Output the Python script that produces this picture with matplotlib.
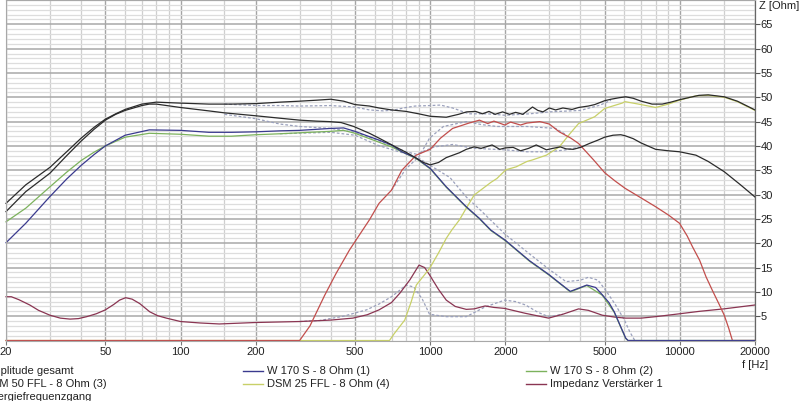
import matplotlib
matplotlib.use("Agg")
import matplotlib.pyplot as plt
from matplotlib.lines import Line2D
from matplotlib.ticker import NullFormatter, FixedLocator

plt.rcParams['font.family'] = ['Liberation Sans', 'DejaVu Sans']

# ---------------- data ----------------
ges_f = [20, 24, 30, 35, 40, 45, 50, 55, 60, 70, 80, 100, 130, 160, 200, 250, 300, 350, 400, 450,
         500, 571, 624, 700, 800, 900, 1000, 1160, 1300, 1400, 1520, 1620, 1720, 1820, 1950, 2080,
         2200, 2350, 2570, 2700, 2830, 3000, 3180, 3400, 3700, 3930, 4300, 4560, 5000, 5300, 5700,
         6070, 6500, 7000, 7740, 8500, 9200, 9970, 11000, 11930, 13000, 15060, 17000, 20000]
ges_v = [28.2, 32.0, 35.6, 38.8, 41.6, 43.8, 45.5, 46.6, 47.5, 48.6, 49.0, 48.8, 48.6, 48.6, 48.7,
         49.0, 49.2, 49.4, 49.6, 49.2, 48.5, 48.2, 47.8, 47.4, 47.1, 46.6, 46.1, 45.9, 46.5, 47.0,
         47.1, 46.6, 47.1, 46.5, 47.0, 46.5, 46.9, 46.5, 48.0, 47.3, 47.0, 47.8, 47.4, 47.8, 47.5,
         47.9, 48.2, 48.5, 49.3, 49.6, 49.9, 50.1, 49.8, 49.2, 48.6, 48.6, 49.0, 49.5, 50.0, 50.4,
         50.5, 50.1, 49.2, 47.4]

low_f = [20, 24, 30, 35, 40, 45, 50, 55, 60, 70, 75, 80, 100, 130, 150, 200, 250, 300, 350, 395,
         440, 494, 571, 624, 727, 800, 879, 940, 1000, 1080, 1160, 1310, 1395, 1500, 1600, 1770,
         1900, 2000, 2150, 2300, 2480, 2660, 2920, 3100, 3320, 3500, 3740, 4000, 4340, 4700, 5000,
         5400, 5800, 6030, 6500, 7000, 8000, 9000, 9970, 11600, 13000, 15060, 17500, 20000]
low_v = [26.5, 30.6, 34.4, 38.0, 41.0, 43.4, 45.3, 46.5, 47.3, 48.3, 48.6, 48.6, 47.9, 47.2, 46.8,
         46.2, 45.7, 45.3, 45.1, 45.0, 44.8, 44.0, 42.6, 41.6, 39.8, 38.7, 37.5, 36.6, 36.1, 36.6,
         37.6, 38.6, 39.3, 39.8, 39.5, 40.2, 39.3, 39.6, 39.7, 39.0, 39.5, 40.2, 39.2, 39.5, 39.8,
         39.4, 39.3, 39.7, 40.5, 41.2, 41.8, 42.2, 42.3, 42.1, 41.5, 40.6, 39.3, 39.0, 38.8, 38.1,
         36.8, 34.7, 32.0, 29.5]

w1_f = [20, 24, 30, 35, 40, 45, 50, 60, 75, 100, 130, 160, 200, 250, 300, 400, 450, 500, 571, 624,
        700, 770, 879, 1000, 1160, 1395, 1575, 1750, 2000, 2200, 2500, 3000, 3300, 3640, 4000, 4240,
        4600, 4890, 5200, 5460, 5800, 6070, 6200, 20000]
w1_v = [20.1, 24.1, 29.6, 33.2, 36.0, 38.2, 40.0, 42.2, 43.3, 43.2, 42.8, 42.8, 42.9, 43.1, 43.2,
        43.6, 43.7, 43.0, 41.9, 41.2, 40.2, 38.8, 37.5, 35.4, 31.6, 27.5, 25.1, 22.7, 20.6, 18.8,
        16.4, 13.5, 11.8, 10.1, 10.9, 11.4, 10.9, 9.4, 7.8, 5.9, 2.8, 0.5, 0.0, 0.0]

w2_f = [20, 24, 30, 35, 40, 45, 50, 60, 75, 100, 130, 160, 200, 250, 300, 400, 450, 500, 571, 700,
        879, 1000, 1160, 1395, 1575, 1750, 2000, 2500, 3000, 3640, 4240, 4890, 5460, 6070, 6200, 20000]
w2_v = [24.4, 27.2, 31.6, 34.6, 37.0, 38.7, 40.0, 41.8, 42.6, 42.4, 42.0, 42.0, 42.3, 42.5, 42.7,
        43.0, 43.2, 42.6, 41.5, 39.8, 37.4, 35.3, 31.5, 27.4, 25.0, 22.6, 20.5, 16.3, 13.4, 10.0,
        11.3, 9.3, 5.8, 0.4, 0.0, 0.0]

mid_f = [20, 300, 330, 378, 420, 475, 530, 571, 624, 700, 770, 879, 1000, 1100, 1230, 1430, 1575,
         1700, 1800, 1990, 2100, 2300, 2440, 2750, 3000, 3289, 3660, 3930, 4500, 5000, 5500, 6030,
         7000, 8000, 9000, 9970, 10700, 11230, 12000, 12730, 13500, 14350, 15060, 15700, 16240, 20000]
mid_v = [0.0, 0.0, 3.0, 9.3, 13.8, 18.6, 22.3, 24.8, 28.2, 30.9, 35.0, 38.1, 39.3, 41.6, 43.6, 44.7,
         45.3, 44.6, 45.1, 44.3, 44.9, 44.3, 44.7, 45.0, 44.5, 42.9, 41.6, 40.5, 37.2, 34.5, 32.8,
         31.3, 29.3, 27.5, 25.8, 24.1, 21.5, 19.3, 16.5, 13.1, 10.3, 7.5, 5.2, 2.5, 0.0, 0.0]

tw_f = [20, 687, 720, 791, 840, 880, 994, 1080, 1160, 1220, 1310, 1395, 1500, 1630, 1750, 1850, 2010,
        2210, 2440, 2560, 2920, 3289, 3640, 3930, 4560, 5000, 5870, 6030, 7000, 8000, 9000, 9970,
        11000, 11600, 13000, 15060, 17000, 20000]
tw_v = [0.0, 0.0, 1.5, 4.2, 8.0, 11.4, 14.8, 18.0, 21.0, 22.7, 24.8, 27.2, 29.9, 31.3, 32.5, 33.3,
        35.1, 35.7, 36.8, 37.1, 38.1, 39.8, 42.6, 44.6, 46.0, 47.7, 48.8, 49.1, 48.5, 47.9, 48.6,
        49.4, 50.0, 50.3, 50.4, 50.0, 49.1, 47.3]

imp_f = [20, 21, 22.5, 24.9, 27, 30, 33, 36.1, 39, 42.1, 46, 50, 54, 57, 60.3, 64, 68.6, 75.3, 81,
         87.8, 100, 120, 143, 200, 300, 400, 490, 560, 624, 700, 758, 830, 902, 950, 994, 1080, 1160,
         1260, 1395, 1500, 1660, 1800, 1987, 2400, 2980, 3400, 3930, 4300, 4890, 5500, 6070, 7000,
         8000, 10000, 12000, 15000, 20000]
imp_v = [9.0, 9.0, 8.4, 7.3, 6.2, 5.2, 4.6, 4.4, 4.5, 4.9, 5.5, 6.3, 7.4, 8.3, 8.8, 8.5, 7.6, 5.9,
         5.1, 4.6, 3.9, 3.6, 3.4, 3.7, 3.9, 4.2, 4.6, 5.3, 6.3, 7.8, 9.8, 12.5, 15.5, 15.0, 13.5,
         10.5, 8.3, 7.0, 6.4, 6.5, 7.1, 6.8, 6.6, 5.6, 4.6, 5.4, 6.5, 6.2, 5.2, 4.8, 4.6, 4.6, 4.9,
         5.5, 6.0, 6.5, 7.3]

# dashed reference curves
rges_f = [150, 200, 250, 300, 400, 500, 571, 650, 720, 800, 870, 1000, 1100, 1230, 1430, 1700, 2000,
          2500, 3000, 4000, 4800, 5300]
rges_v = [48.6, 48.3, 48.3, 48.2, 48.3, 48.0, 47.4, 47.2, 47.4, 47.9, 48.2, 48.3, 48.4, 47.8, 46.6,
          46.6, 46.3, 46.6, 47.0, 47.3, 48.4, 49.4]
rlow_f = [150, 200, 250, 300, 400, 500, 600, 700, 800, 880, 950, 1040, 1230, 1500, 2000, 2440, 3000,
          3500, 4000]
rlow_v = [46.5, 45.6, 44.5, 44.0, 43.6, 42.8, 41.4, 40.0, 38.8, 38.3, 39.0, 39.8, 40.3, 39.5, 39.2,
          38.8, 38.8, 39.2, 39.8]
rw1_f = [250, 400, 500, 620, 750, 880, 1000, 1200, 1395, 1575, 2000, 2500, 3000, 3500, 4000, 4300,
         4700, 5000, 5500, 6000, 6300, 6600]
rw1_v = [42.5, 42.8, 42.2, 40.1, 38.8, 37.8, 36.0, 33.5, 29.5, 27.0, 21.8, 17.8, 14.6, 12.1, 12.4,
         13.0, 12.4, 10.6, 7.5, 4.2, 1.8, 0.0]
rmid_f = [700, 800, 902, 994, 1130, 1395, 1600, 1850, 2440, 3180, 3500]
rmid_v = [30.9, 35.3, 37.8, 41.6, 44.0, 45.0, 44.4, 44.0, 44.0, 43.6, 42.3]
rimp_f = [300, 360, 450, 556, 624, 700, 758, 800, 860, 930, 994, 1160, 1395, 1660, 1987, 2200, 2410,
          2700, 2980, 3400]
rimp_v = [3.9, 4.1, 5.0, 6.3, 7.5, 9.0, 10.4, 11.4, 11.0, 8.5, 5.4, 4.9, 4.9, 6.9, 8.3, 8.0, 7.3,
          5.8, 4.9, 5.4]

x_ticks = [20, 50, 100, 200, 500, 1000, 2000, 5000, 10000, 20000]
x_tick_labels = ['20', '50', '100', '200', '500', '1000', '2000', '5000', '10000', '20000']
x_minor = [30, 40, 60, 70, 80, 90, 150, 300, 400, 600, 700, 800, 900, 1500, 3000, 4000, 6000, 7000,
           8000, 9000, 15000]
y_ticks = [5, 10, 15, 20, 25, 30, 35, 40, 45, 50, 55, 60, 65]

legend_cols = [
    ['Amplitude gesamt', 'DSM 50 FFL - 8 Ohm (3)', 'Energiefrequenzgang'],
    ['W 170 S - 8 Ohm (1)', 'DSM 25 FFL - 8 Ohm (4)'],
    ['W 170 S - 8 Ohm (2)', 'Impedanz Verstärker 1'],
]

# ---------------- style ----------------
C_BLACK = '#2b2b2b'
C_BLUE = '#3a3a8e'
C_GREEN = '#7cb25c'
C_YELLOW = '#c8d068'
C_RED = '#c24e4c'
C_IMP = '#8a3552'
C_DASH = '#9aa0bc'
TXT = '#222222'
legend_colors = [[C_BLACK, C_RED, C_DASH], [C_BLUE, C_YELLOW], [C_GREEN, C_IMP]]

W, H = 800, 401
fig = plt.figure(figsize=(W / 100, H / 100), dpi=100)
x0, x1, ybot = 6, 755, 340.5
ax = fig.add_axes([x0 / W, 1 - ybot / H, (x1 - x0) / W, ybot / H])
ax.set_xscale('log')
ax.set_xlim(20, 20000)
ax.set_ylim(0, 70)

# grid
ax.xaxis.set_major_locator(FixedLocator(x_ticks))
ax.xaxis.set_minor_locator(FixedLocator(x_minor))
ax.xaxis.set_minor_formatter(NullFormatter())
ax.set_xticklabels(x_tick_labels)
ax.set_yticks(y_ticks)
ax.set_yticks(list(range(0, 71)), minor=True)
ax.grid(which='major', axis='x', color='#a4a4a4', lw=1.0)
ax.grid(which='minor', axis='x', color='#cfcfcf', lw=0.9)
ax.grid(which='major', axis='y', color='#a8a8a8', lw=1.1)
ax.grid(which='minor', axis='y', color='#dddddd', lw=0.9)
ax.set_axisbelow(True)

ax.yaxis.tick_right()
ax.tick_params(axis='y', which='major', length=3.5, width=0.8, color='#555555', pad=0.5,
               labelsize=8, labelcolor=TXT)
ax.tick_params(axis='y', which='minor', length=0)
ax.tick_params(axis='x', which='major', length=3, width=0.8, color='#777777', pad=2,
               labelsize=8, labelcolor=TXT)
ax.tick_params(axis='x', which='minor', length=0)
for s in ['top', 'bottom', 'left']:
    ax.spines[s].set_color('#a8a8a8')
    ax.spines[s].set_linewidth(0.8)
ax.spines['right'].set_color('#666666')
ax.spines['right'].set_linewidth(0.9)

lw = 0.9
dash = dict(color=C_DASH, lw=0.9, ls=(0, (2.2, 1.6)), clip_on=False)
ax.plot(rimp_f, rimp_v, **dash)
ax.plot(rw1_f, rw1_v, **dash)
ax.plot(rmid_f, rmid_v, **dash)
ax.plot(rlow_f, rlow_v, **dash)
ax.plot(rges_f, rges_v, **dash)

ax.plot(imp_f, imp_v, color=C_IMP, lw=lw, clip_on=False)
ax.plot(tw_f, tw_v, color=C_YELLOW, lw=lw, clip_on=False)
ax.plot(mid_f, mid_v, color=C_RED, lw=lw, clip_on=False)
ax.plot(w2_f, w2_v, color=C_GREEN, lw=lw, clip_on=False)
ax.plot(w1_f, w1_v, color=C_BLUE, lw=lw, clip_on=False)
ax.plot(low_f, low_v, color=C_BLACK, lw=lw, clip_on=False)
ax.plot(ges_f, ges_v, color=C_BLACK, lw=lw, clip_on=False)

# axis captions
fig.text(759 / W, 1 - 6 / H, 'Z [Ohm]', ha='left', va='center', fontsize=8, color=TXT)
fig.text(755 / W, 1 - 365 / H, 'f [Hz]', ha='center', va='center', fontsize=8, color=TXT)

# legend (manual, three columns; first column is cut at the left edge)
col_text_x = [-16, 267, 550]
row_y = [371, 384, 397]
for ci, names in enumerate(legend_cols):
    for ri, name in enumerate(names):
        yy = 1 - row_y[ri] / H
        tx = col_text_x[ci]
        fig.add_artist(Line2D([(tx - 24) / W, (tx - 4) / W], [yy, yy],
                              color=legend_colors[ci][ri], lw=1.0,
                              ls='-' if legend_colors[ci][ri] != C_DASH else (0, (2, 1.5))))
        fig.text(tx / W, yy, name, ha='left', va='center', fontsize=8, color=TXT)

fig.savefig('out.png', dpi=100, facecolor='white')
